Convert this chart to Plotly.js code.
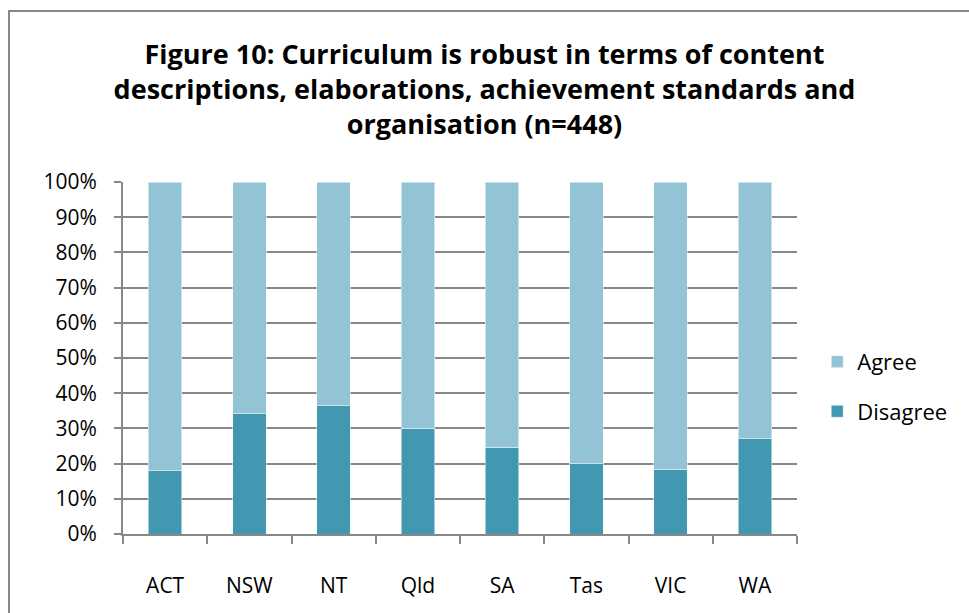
<!DOCTYPE html>
<html>
<head>
<meta charset="utf-8">
<script src="https://cdn.plot.ly/plotly-3.0.1.min.js"></script>
<style>
  html, body { margin: 0; padding: 0; background: #fff; }
  #wrap { position: relative; width: 969px; height: 613px; overflow: hidden; }
  #chart { width: 969px; height: 613px; }
  #frame { position: absolute; left: 8px; top: 10px; width: 2000px; height: 2000px;
           border-left: 2px solid #888; border-top: 2px solid #888; pointer-events: none; }
</style>
</head>
<body>
<div id="wrap">
  <div id="chart"></div>
  <div id="frame"></div>
</div>
<script>
const categories = ['ACT', 'NSW', 'NT', 'Qld', 'SA', 'Tas', 'VIC', 'WA'];
const disagree = [18.0, 34.1, 36.4, 30.1, 24.7, 19.9, 18.2, 27.1];
const agree = [82.0, 65.9, 63.6, 69.9, 75.3, 80.1, 81.8, 72.9];
const yTickValues = [0, 10, 20, 30, 40, 50, 60, 70, 80, 90, 100];
const yTickLabels = yTickValues.map(v => v + '%');

const FONT = '"Open Sans", Lato, sans-serif';

const traces = [
  { type: 'bar', name: 'Disagree', x: categories, y: disagree,
    marker: { color: '#4298B0', line: { color: 'rgba(255,255,255,0.5)', width: 1 } },
    legendgroup: 'd', legendrank: 2, hoverinfo: 'x+y' },
  { type: 'bar', name: 'Agree', x: categories, y: agree,
    marker: { color: '#93C4D6', line: { color: 'rgba(255,255,255,0.5)', width: 1 } },
    legendgroup: 'a', legendrank: 1, hoverinfo: 'x+y' }
];

const layout = {
  width: 969, height: 613,
  paper_bgcolor: '#fff', plot_bgcolor: '#fff',
  font: { family: FONT, size: 21, color: '#000' },
  margin: { l: 123, r: 172, t: 182, b: 79 },
  barmode: 'stack',
  bargap: 0.6,
  title: {
    text: '<b>Figure 10: Curriculum is robust in terms of content<br>descriptions, elaborations, achievement standards and<br>organisation (n=448)</b>',
    font: { family: FONT, size: 27, color: '#000' },
    x: 0.5, xanchor: 'center', xref: 'container',
    y: 1 - 64 / 613, yanchor: 'middle', yref: 'container'
  },
  xaxis: {
    type: 'category',
    showline: true, linecolor: '#888', linewidth: 2,
    ticks: 'outside', tickson: 'boundaries', ticklen: 8, tickcolor: '#888', tickwidth: 2,
    ticklabelstandoff: 32,
    showgrid: false, zeroline: false,
    tickfont: { family: FONT, size: 21, color: '#000' }
  },
  yaxis: {
    range: [0, 100],
    tickvals: yTickValues,
    ticktext: yTickLabels,
    showline: true, linecolor: '#888', linewidth: 2,
    ticks: 'outside', ticklen: 7, tickcolor: '#888', tickwidth: 2,
    ticklabelstandoff: 13,
    showgrid: true, gridcolor: '#888', gridwidth: 2,
    zeroline: false,
    tickfont: { family: FONT, size: 21, color: '#000' }
  },
  showlegend: true,
  legend: {
    x: 1.03, xanchor: 'left', y: 0.418, yanchor: 'middle',
    traceorder: 'grouped', tracegroupgap: 18,
    font: { family: FONT, size: 22, color: '#000' },
    bgcolor: 'rgba(0,0,0,0)'
  }
};

Plotly.newPlot('chart', traces, layout, { displayModeBar: false, staticPlot: true });
</script>
</body>
</html>
